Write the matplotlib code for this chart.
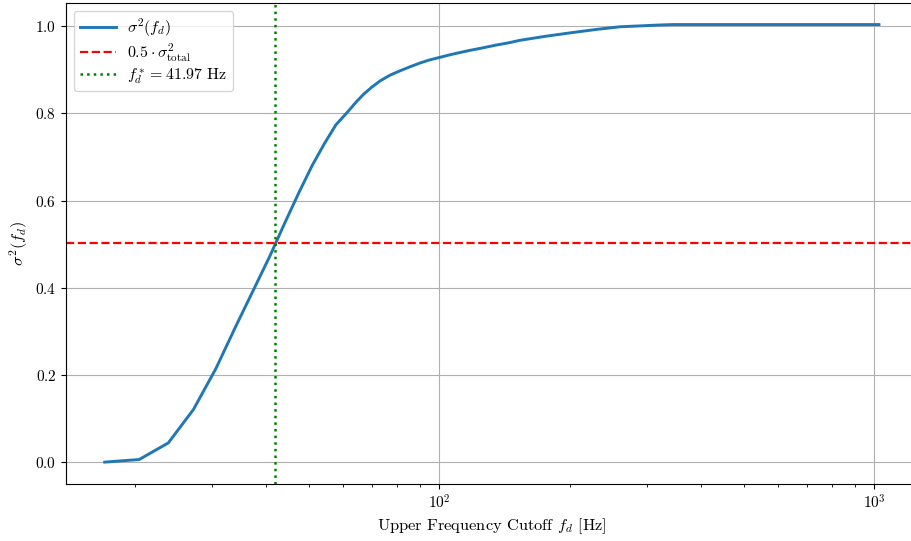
import numpy as np
import matplotlib
matplotlib.use("Agg")
import matplotlib.pyplot as plt

# LaTeX-like look without usetex
plt.rcParams["font.family"] = "serif"
plt.rcParams["font.serif"] = ["cmr10", "DejaVu Serif"]
plt.rcParams["mathtext.fontset"] = "cm"
plt.rcParams["axes.formatter.use_mathtext"] = True
plt.rcParams["font.size"] = 11

# upper cutoff frequencies [Hz] and cumulative variance
freqs = [17.0, 20.4, 23.8, 27.2, 30.6, 34.0, 37.4, 40.8, 44.2, 47.6, 51.0,
         54.4, 57.8, 61.8, 64.3, 66.9, 70.0, 73.1, 77.0, 81.2, 85.5, 90.3,
         95.0, 100.4, 106.0, 111.6, 117.7, 125.0, 135.0, 144.0, 153.3,
         175.0, 199.7, 230.0, 260.3, 289.3, 320.0, 344.0, 400.0, 500.0,
         700.0, 1024.0]
variance = [0.000, 0.006, 0.044, 0.121, 0.214, 0.311, 0.396, 0.474, 0.551,
            0.620, 0.681, 0.731, 0.774, 0.806, 0.826, 0.844, 0.861, 0.875,
            0.888, 0.898, 0.907, 0.916, 0.923, 0.929, 0.935, 0.940, 0.945,
            0.950, 0.957, 0.962, 0.968, 0.977, 0.985, 0.993, 0.999, 1.001,
            1.003, 1.004, 1.004, 1.004, 1.004, 1.004]
total_variance = 1.004
f_star = 41.97

fig = plt.figure(figsize=(9.12, 5.41), dpi=100)
ax = fig.add_axes([66 / 912, 57 / 541, 0.9, 481.3 / 541])

ax.plot(freqs, variance, color="#1f77b4", lw=2.1, label=r"$\sigma^2(f_d)$")
ax.axhline(0.5 * total_variance, color="red", ls="--", lw=1.6,
           label=r"$0.5 \cdot \sigma^2_{\mathrm{total}}$")
ax.axvline(f_star, color="green", ls=":", lw=1.8,
           label=r"$f_d^* = 41.97$ Hz")
ax.set_xscale("log")
ax.grid(True)
ax.set_xlabel(r"Upper Frequency Cutoff $f_d$ [Hz]", fontsize=11.8, labelpad=3)
ax.set_ylabel(r"$\sigma^2(f_d)$", fontsize=11.8)
ax.legend(loc="upper left", fontsize=11.5, labelspacing=0.15,
          handlelength=2.3, handletextpad=0.7, borderpad=0.35)

# one decade spans about 435 px in the reference, right spine falls off the canvas
x0, x1 = ax.get_xlim()
width_px = 435 * (np.log10(x1) - np.log10(x0))
pos = ax.get_position()
ax.set_position([pos.x0, pos.y0, width_px / 912, pos.height])

fig.savefig("out.png", dpi=100)
